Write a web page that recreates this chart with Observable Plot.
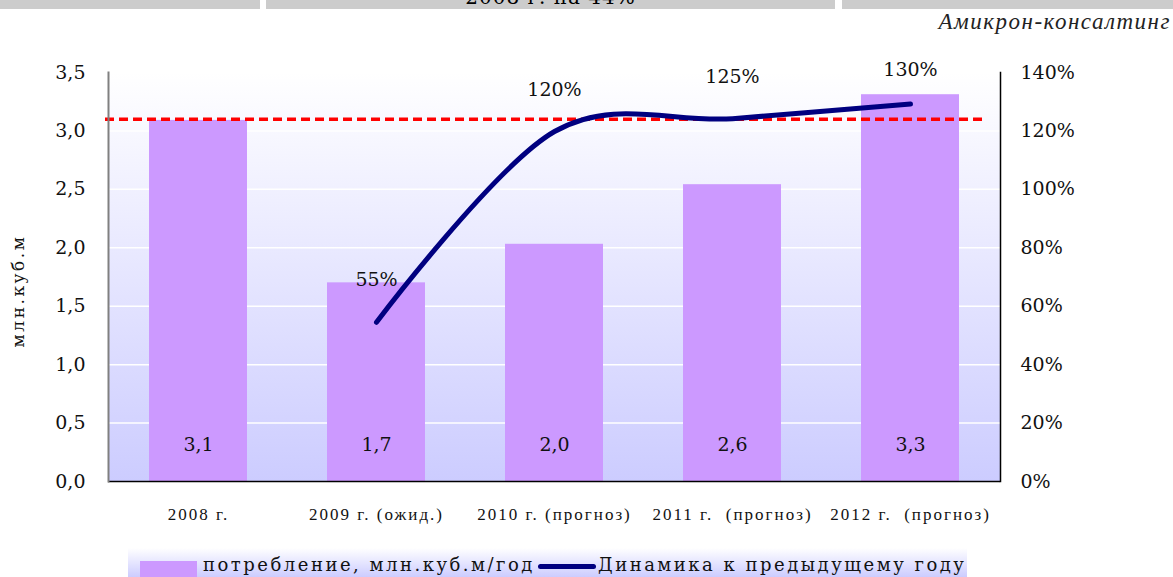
<!DOCTYPE html>
<html>
<head>
<meta charset="utf-8">
<script src="https://cdn.jsdelivr.net/npm/d3@7"></script>
<script src="https://cdn.jsdelivr.net/npm/@observablehq/plot@0.6"></script>
<style>
  html, body { margin: 0; padding: 0; background: #fff; width: 1173px; height: 577px; overflow: hidden; }
  #wrap { position: relative; width: 1173px; height: 577px; }
  .gbar { position: absolute; top: 0; height: 9px; background: #cccccc; }
  #toptext { position: absolute; top: -15px; left: 266px; width: 569px; text-align: center; font: 20px "DejaVu Serif", serif; letter-spacing: 1px; color: #000; white-space: nowrap; }
  #source { position: absolute; top: 9px; right: 2px; font: italic 23px "Liberation Serif", serif; color: #222; letter-spacing: 1.5px; }
  #ylabel { position: absolute; left: 18px; top: 291px; transform: translate(-50%, -50%) rotate(-90deg); font: 17px "DejaVu Serif", serif; letter-spacing: 2.5px; color: #111; white-space: nowrap; }
  #legend { position: absolute; left: 128px; top: 548px; width: 839px; height: 29px; background: linear-gradient(#ffffff, #ccccff); font: 18px "DejaVu Serif", serif; color: #111; }
  #legend .sw { position: absolute; left: 12px; top: 13px; width: 57px; height: 16px; background: #cc99ff; }
  #legend .t1 { position: absolute; left: 75px; top: 6px; letter-spacing: 2.5px; white-space: nowrap; }
  #legend .ln { position: absolute; left: 410px; top: 16px; width: 58px; height: 5px; border-radius: 3px; background: #000080; }
  #legend .t2 { position: absolute; left: 470px; top: 6px; letter-spacing: 2.5px; white-space: nowrap; }
  #chart svg { position: absolute; left: 0; top: 0; }
</style>
</head>
<body>
<div id="wrap">
  <div class="gbar" style="left:0;width:260px"></div>
  <div class="gbar" style="left:266px;width:569px"></div>
  <div class="gbar" style="left:842px;width:331px"></div>
  <div id="chart"></div>
  <div id="toptext">2008 г. на 44%</div>
  <div id="source">Амикрон-консалтинг</div>
  <div id="ylabel">млн.куб.м</div>
  <div id="legend">
    <span class="sw"></span><span class="t1">потребление, млн.куб.м/год</span>
    <span class="ln"></span><span class="t2">Динамика к предыдущему году</span>
  </div>
</div>
<script>
// ---- data ----
const years = ["2008 г.", "2009 г. (ожид.)", "2010 г. (прогноз)", "2011 г.\u00a0\u00a0(прогноз)", "2012 г.\u00a0\u00a0(прогноз)"];
const consumption = [3.09, 1.7, 2.03, 2.54, 3.31];
const consumptionLabels = ["3,1", "1,7", "2,0", "2,6", "3,3"];
const dynamics = [null, 54.5, 119.8, 124.2, 129.2];
const dynamicsLabels = ["", "55%", "120%", "125%", "130%"];
const level2008 = 3.1;
const leftTicks = [0, 0.5, 1, 1.5, 2, 2.5, 3, 3.5];
const rightTicks = [0, 20, 40, 60, 80, 100, 120, 140];
const ratio = 40; // 1 unit on left axis = 40% on right axis

const bars = years.map((y, i) => ({year: y, value: consumption[i], label: consumptionLabels[i]}));
const dyn = years.map((y, i) => ({year: y, pct: dynamics[i], label: dynamicsLabels[i]})).filter(d => d.pct != null);

const chart = Plot.plot({
  width: 1173,
  height: 577,
  marginLeft: 108,
  marginRight: 173,
  marginTop: 72,
  marginBottom: 96,
  style: {fontFamily: "DejaVu Serif, serif", fontSize: "18px", color: "#111", background: "transparent"},
  x: {type: "band", domain: years, paddingInner: 0.45, paddingOuter: 0.225},
  y: {domain: [0, 3.5]},
  marks: [
    Plot.frame({fill: "url(#bg)", stroke: "none"}),
    Plot.gridY(leftTicks.slice(1), {stroke: "#ffffff", strokeOpacity: 1, strokeWidth: 1.5}),
    Plot.barY(bars, {x: "year", y: "value", fill: "#cc99ff"}),
    Plot.text(bars, {x: "year", text: "label", frameAnchor: "bottom", dy: -31, fontSize: 19, fill: "#111"}),
    Plot.ruleY([level2008], {stroke: "#ff0000", strokeWidth: 3.5, strokeDasharray: "9,5", insetRight: 14, insetLeft: -3}),
    Plot.line(dyn, {x: "year", y: d => d.pct / ratio, stroke: "#000080", strokeWidth: 5, curve: "cardinal", tension: 0, strokeLinecap: "round"}),
    Plot.text(dyn, {x: "year", y: d => Math.min(d.pct / ratio + 0.36, 3.52), text: "label", fontSize: 19, fill: "#111"}),
    Plot.ruleY([0], {stroke: "#000", strokeWidth: 1.5}),
    Plot.frame({anchor: "left", stroke: "#808080", strokeWidth: 2}),
    Plot.frame({anchor: "right", stroke: "#000", strokeWidth: 1.5}),
    Plot.axisY(leftTicks, {anchor: "left", tickSize: 0, tickPadding: 23, fontSize: 19,
      tickFormat: d => d.toFixed(1).replace(".", ","), label: null}),
    Plot.axisY(rightTicks.map(p => p / ratio), {anchor: "right", tickSize: 0, tickPadding: 20, fontSize: 19,
      tickFormat: d => Math.round(d * ratio) + "%", label: null}),
    Plot.axisX({tickSize: 0, tickPadding: 26, fontSize: 17, fontFamily: "Liberation Serif, serif", label: null})
  ]
});

const ns = "http://www.w3.org/2000/svg";
const defs = document.createElementNS(ns, "defs");
defs.innerHTML = '<linearGradient id="bg" x1="0" y1="0" x2="0" y2="1"><stop offset="0" stop-color="#ffffff"/><stop offset="1" stop-color="#ccccff"/></linearGradient>';
chart.insertBefore(defs, chart.firstChild);
// widen x tick labels like the reference
chart.querySelectorAll('[aria-label="x-axis tick label"] text').forEach(t => t.style.letterSpacing = "2px");
document.getElementById("chart").appendChild(chart);
</script>
</body>
</html>
